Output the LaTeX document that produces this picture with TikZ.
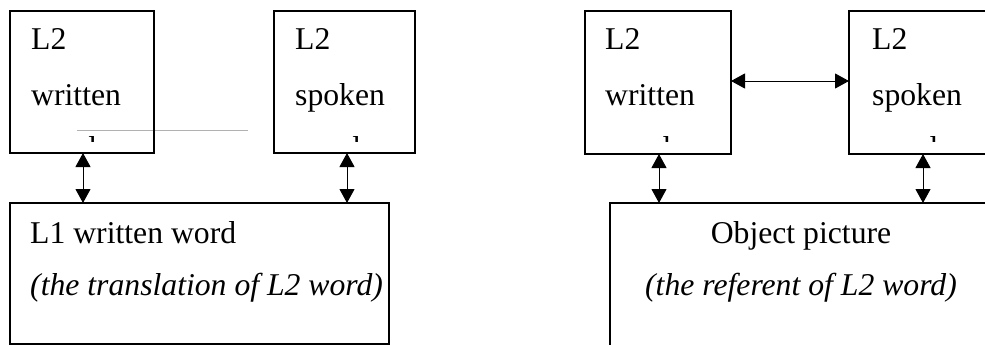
\documentclass[tikz,border=0pt]{standalone}
\usepackage{fontspec}
\setmainfont{Liberation Serif}
\usetikzlibrary{arrows.meta}
\begin{document}
\begin{tikzpicture}[x=1pt,y=-1pt,
  box/.style={draw, line width=2.2pt, inner sep=0pt, outer sep=0pt, anchor=north west},
  lbl/.style={inner sep=0pt, anchor=base west, font=\fontsize{31.7}{38}\selectfont},
  clbl/.style={lbl, anchor=base},
  tipA/.tip={Triangle[length=14pt,width=15pt]},
  link/.style={line width=1pt, tipA-tipA}]
  % page frame
  \clip (0,0) rectangle (985,345);
  \fill[white] (0,0) rectangle (985,345);

  % stray rule across the left panel
  \draw[black!30, line width=0.8pt] (77,130) -- (248,130);

  % ---- left panel ----
  \node[box, minimum width=144pt, minimum height=142pt] (wA) at (10,11) {};
  \node[box, minimum width=141pt, minimum height=142pt] (sA) at (274,11) {};
  \node[box, minimum width=379pt, minimum height=141pt] (tr) at (10,203) {};

  \node[lbl] (wA1) at (31,50) {L2};
  \node[lbl] (wA2) at (31,105) {written};
  \node[lbl] (sA1) at (295,50) {L2};
  \node[lbl] (sA2) at (295,105) {spoken};
  \begin{scope}
    \clip (12,13) rectangle (152,141.5);
    \node[lbl] (wA3) at (31,158) {word};
  \end{scope}
  \begin{scope}
    \clip (276,13) rectangle (413,141.5);
    \node[lbl] (sA3) at (295,158) {word};
  \end{scope}

  \node[lbl] (tr1) at (30,243) {L1 written word};
  \node[lbl] (tr2) at (30,295) {\itshape (the translation of L2 word)};

  \coordinate (xa) at (83,0);
  \coordinate (xb) at (347,0);
  \draw[link] (wA.south -| xa) -- (tr.north -| xa);
  \draw[link] (sA.south -| xb) -- (tr.north -| xb);

  % ---- right panel ----
  \node[box, minimum width=146pt, minimum height=143pt] (wB) at (585,11) {};
  \node[box, minimum width=250pt, minimum height=143pt] (sB) at (849,11) {};
  \node[box, minimum width=382pt, minimum height=200pt] (obj) at (610,203) {};

  \node[lbl] (wB1) at (605,50) {L2};
  \node[lbl] (wB2) at (605,105) {written};
  \node[lbl] (sB1) at (872,50) {L2};
  \node[lbl] (sB2) at (872,105) {spoken};
  \begin{scope}
    \clip (587,13) rectangle (729,141.5);
    \node[lbl] (wB3) at (605,158) {word};
  \end{scope}
  \begin{scope}
    \clip (851,13) rectangle (1095,141.5);
    \node[lbl] (sB3) at (872,158) {word};
  \end{scope}

  \node[clbl] (obj1) at (801,243) {Object picture};
  \node[clbl] (obj2) at (801,295) {\itshape (the referent of L2 word)};

  \coordinate (ya) at (0,81);
  \coordinate (xc) at (659,0);
  \coordinate (xd) at (923,0);
  \draw[link] (wB.east |- ya) -- (sB.west |- ya);
  \draw[link] (wB.south -| xc) -- (obj.north -| xc);
  \draw[link] (sB.south -| xd) -- (obj.north -| xd);
\end{tikzpicture}
\end{document}
